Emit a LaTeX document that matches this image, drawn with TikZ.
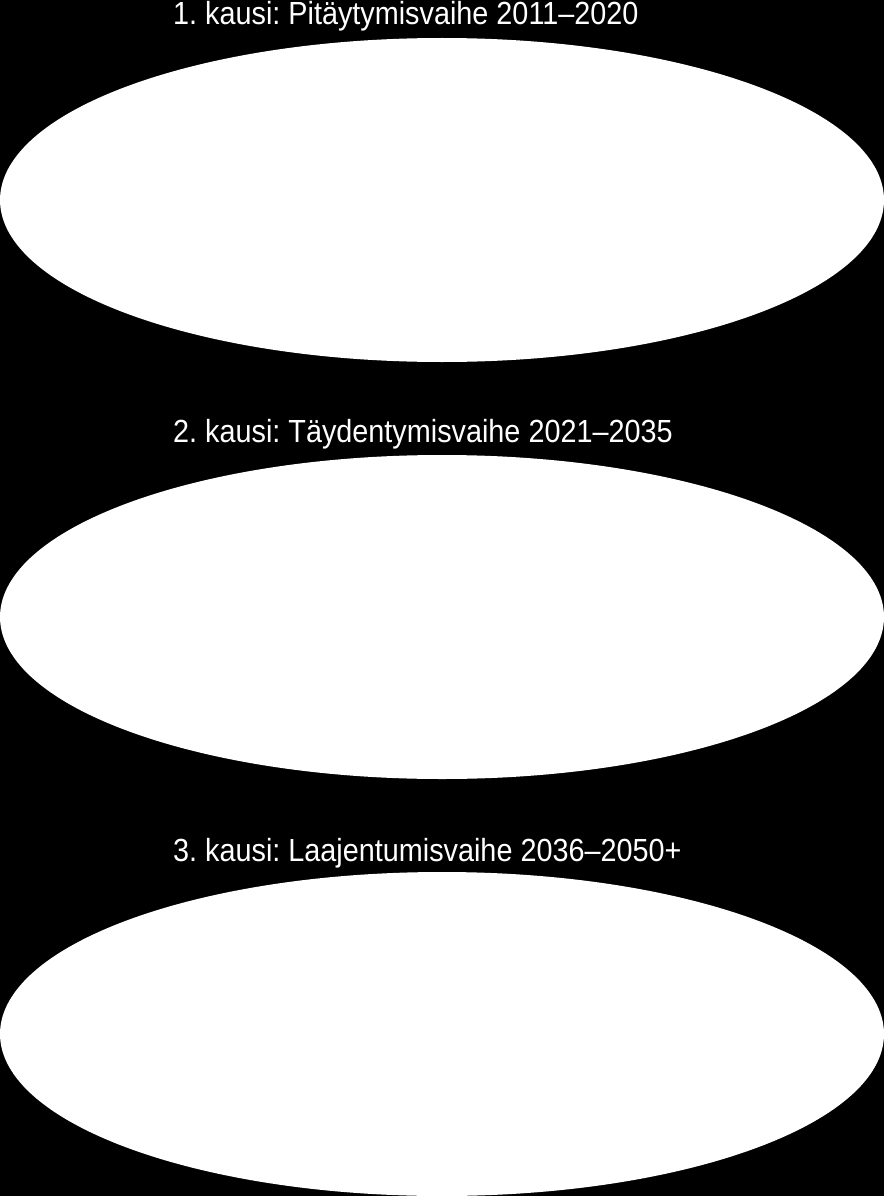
\documentclass[tikz,border=0pt]{standalone}
\usepackage{fontspec}
\setmainfont{Liberation Sans}
\newfontfamily\phasetitlefont[FakeStretch=0.9]{Liberation Sans}
\usetikzlibrary{shapes.geometric}
\begin{document}
\frenchspacing
\begin{tikzpicture}[x=1pt,y=-1pt,
  phase/.style={ellipse, fill=white, draw=none, minimum width=884pt, minimum height=324pt, inner sep=0pt},
  title/.style={text=white, anchor=base west, inner sep=0pt, font=\phasetitlefont\fontsize{32}{38}\selectfont}]
\fill[black] (0,0) rectangle (884,1196);
\useasboundingbox (0,0) rectangle (884,1196);
\node[title] (t1) at (173,25) {1. kausi: Pitäytymisvaihe 2011–2020};
\node[phase] (e1) at (442,200) {};
\node[title] (t2) at (173,442) {2. kausi: Täydentymisvaihe 2021–2035};
\node[phase] (e2) at (442,617) {};
\node[title] (t3) at (173,861) {3. kausi: Laajentumisvaihe 2036–2050+};
\node[phase] (e3) at (442,1034) {};
\end{tikzpicture}
\end{document}
